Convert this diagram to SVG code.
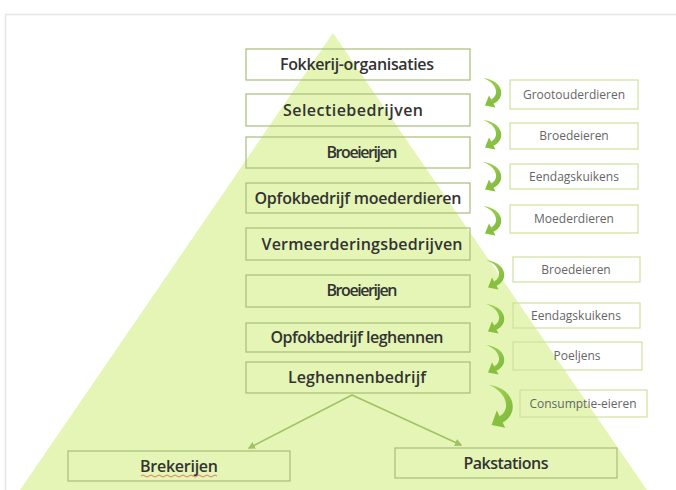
<svg xmlns="http://www.w3.org/2000/svg" width="676" height="490" viewBox="0 0 676 490">
<style>
.main{fill:none;stroke:#a9bd78;stroke-width:1.2}
.small{fill:none;stroke:#cfdf9f;stroke-width:1.2}
.mt{font-family:"Open Sans","Liberation Sans",sans-serif;font-weight:600;fill:#333;text-anchor:middle;font-size:16px}
.st{font-family:"Open Sans","Liberation Sans",sans-serif;font-weight:400;fill:#666;text-anchor:middle;font-size:12px}
.ln{fill:none;stroke:#9fc265;stroke-width:1.5}
</style>
<defs>
<linearGradient id="ag" x1="0" y1="0" x2="1" y2="1">
<stop offset="0" stop-color="#a6d45a"/>
<stop offset="1" stop-color="#7cb83a"/>
</linearGradient>
<g id="carrow">
<path d="M 0 0 C 20 2, 24 20, 10 26 L 8 21.5 C 17 17, 14 5, 0 0 Z" fill="url(#ag)"/>
<polygon points="6,17.5 12.5,29.5 2,27.5" fill="#86c03e"/>
</g>
<marker id="ah" viewBox="0 0 10 10" refX="8" refY="5" markerWidth="5" markerHeight="5" orient="auto">
<path d="M0,0 L10,5 L0,10 Z" fill="#9fc265"/>
</marker>
</defs>
<rect width="676" height="490" fill="#fff"/>
<path d="M5.5 490 V14.5 H676" fill="none" stroke="#e6e6e6" stroke-width="1.5"/>
<polygon points="333,33 20,490 647,490" fill="#e4f5b5"/>

<g id="connectors">
<line class="ln" x1="352" y1="395" x2="249" y2="448" marker-end="url(#ah)"/>
<line class="ln" x1="352" y1="395" x2="461" y2="445" marker-end="url(#ah)"/>
<use href="#carrow" x="483" y="78"/>
<use href="#carrow" x="483" y="120"/>
<use href="#carrow" x="483" y="162"/>
<use href="#carrow" x="483" y="206"/>
<use href="#carrow" x="486" y="260"/>
<use href="#carrow" x="486" y="304"/>
<use href="#carrow" x="486" y="345"/>
<use href="#carrow" transform="translate(489,385) scale(1.3,1.45)"/>
</g>

<g id="n1"><rect class="main" x="246" y="49" width="224" height="31"/><text class="mt" x="357" y="70" font-size="15" textLength="154">Fokkerij-organisaties</text></g>
<g id="n2"><rect class="main" x="246" y="94" width="224" height="32"/><text class="mt" x="353" y="115.5" textLength="140">Selectiebedrijven</text></g>
<g id="n3"><rect class="main" x="246" y="137" width="224" height="31"/><text class="mt" x="362" y="158" font-size="14" fill="#444" textLength="71">Broeierijen</text></g>
<g id="n4"><rect class="main" x="246" y="183" width="224" height="30"/><text class="mt" x="358" y="203.5" textLength="207">Opfokbedrijf moederdieren</text></g>
<g id="n5"><rect class="main" x="246" y="228" width="224" height="32"/><text class="mt" x="362" y="249.5" font-size="16.5" textLength="201">Vermeerderingsbedrijven</text></g>
<g id="n6"><rect class="main" x="246" y="275" width="224" height="32"/><text class="mt" x="362" y="296" font-size="14" fill="#444" textLength="71">Broeierijen</text></g>
<g id="n7"><rect class="main" x="246" y="323" width="224" height="29"/><text class="mt" x="357" y="343" textLength="173">Opfokbedrijf leghennen</text></g>
<g id="n8"><rect class="main" x="246" y="362" width="224" height="31"/><text class="mt" x="357" y="383" font-size="16.5" textLength="138">Leghennenbedrijf</text></g>
<g id="n9"><rect class="main" x="68" y="451" width="222" height="30"/><text class="mt" x="179" y="471.5" fill="#3a3a3a" textLength="78">Brekerijen</text>
<path d="M141 476 q2 -2 4 0 t4 0 t4 0 t4 0 t4 0 t4 0 t4 0 t4 0 t4 0 t4 0 t4 0 t4 0 t4 0 t4 0 t4 0 t4 0 t4 0 t4 0 t4 0" fill="none" stroke="#e06a5a" stroke-width="0.9"/></g>
<g id="n10"><rect class="main" x="395" y="448" width="222" height="30"/><text class="mt" x="506" y="468.5" textLength="85">Pakstations</text></g>

<g id="s1"><rect class="small" x="510" y="80" width="128" height="29"/><text class="st" x="574" y="98.5">Grootouderdieren</text></g>
<g id="s2"><rect class="small" x="510" y="123" width="128" height="26"/><text class="st" x="574" y="140">Broedeieren</text></g>
<g id="s3"><rect class="small" x="510" y="164" width="128" height="25"/><text class="st" x="574" y="180.5">Eendagskuikens</text></g>
<g id="s4"><rect class="small" x="510" y="205" width="128" height="28"/><text class="st" x="574" y="223">Moederdieren</text></g>
<g id="s5"><rect class="small" x="513" y="257" width="127" height="25"/><text class="st" x="576" y="273.5">Broedeieren</text></g>
<g id="s6"><rect class="small" x="513" y="303" width="127" height="25"/><text class="st" x="576" y="319.5">Eendagskuikens</text></g>
<g id="s7"><rect class="small" x="513" y="342" width="129" height="28"/><text class="st" x="577" y="360">Poeljens</text></g>
<g id="s8"><rect class="small" x="520" y="390" width="127" height="27"/><text class="st" x="583" y="407.5" fill="#4d5a45">Consumptie-eieren</text></g>
</svg>
